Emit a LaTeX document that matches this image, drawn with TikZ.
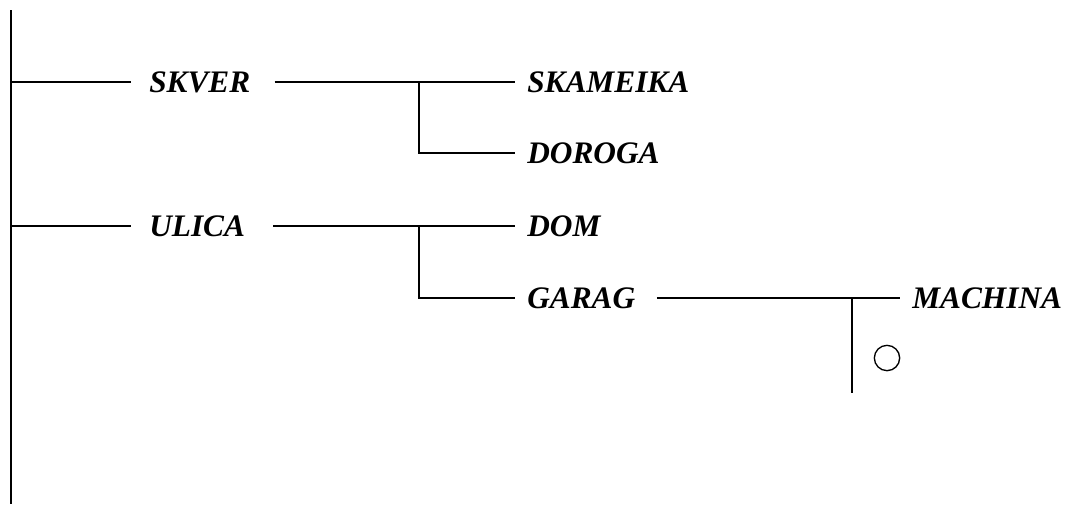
\documentclass[tikz,border=0pt]{standalone}
\usepackage{fontspec}
\setmainfont{Liberation Serif}
\usetikzlibrary{positioning}

\begin{document}
\begin{tikzpicture}[
    x=0.75pt, y=-0.75pt,
    branch/.style={draw, line width=1.5pt},
    treelabel/.style={anchor=west, inner sep=0pt, font=\bfseries\itshape\fontsize{23.5}{28}\selectfont},
    ring/.style={draw, circle, line width=1pt, minimum size=19pt, inner sep=0pt}
]
    \useasboundingbox (0,0) rectangle (1070,504);

    % Trunk
    \coordinate (top) at (11,10);
    \coordinate (bottom) at (11,504);
    \draw[branch] (top) -- (bottom);
    \coordinate (r1) at (11,82);
    \coordinate (r2) at (11,226);

    % Labels
    \node[treelabel] (skver) at (149,82) {SKVER};
    \node[treelabel] (skameika) at (527,82) {SKAMEIKA};
    \node[treelabel] (doroga) at (527,153) {DOROGA};
    \node[treelabel] (ulica) at (149,226) {ULICA};
    \node[treelabel] (dom) at (527,226) {DOM};
    \node[treelabel] (garag) at (527,298) {GARAG};
    \node[treelabel] (machina) at (912,298) {MACHINA};
    \node[ring] (mark) at (887,358) {};

    % Junctions
    \coordinate (j1) at (419,82);
    \coordinate (j2) at (419,226);
    \coordinate (j3) at (852,298);
    \coordinate (j3end) at (852,393);

    % Branches
    \draw[branch, shorten >=13.5pt] (r1) -- (skver.west);
    \draw[branch, shorten <=18pt, shorten >=9pt] (skver.east) -- (j1) -- (skameika.west);
    \draw[branch, shorten >=9pt] (j1) |- (doroga.west);

    \draw[branch, shorten >=13.5pt] (r2) -- (ulica.west);
    \draw[branch, shorten <=21pt, shorten >=9pt] (ulica.east) -- (j2) -- (dom.west);
    \draw[branch, shorten >=9pt] (j2) |- (garag.west);

    \draw[branch, shorten <=16pt, shorten >=9pt] (garag.east) -- (j3) -- (machina.west);
    \draw[branch] (j3) -- (j3end);
\end{tikzpicture}
\end{document}
